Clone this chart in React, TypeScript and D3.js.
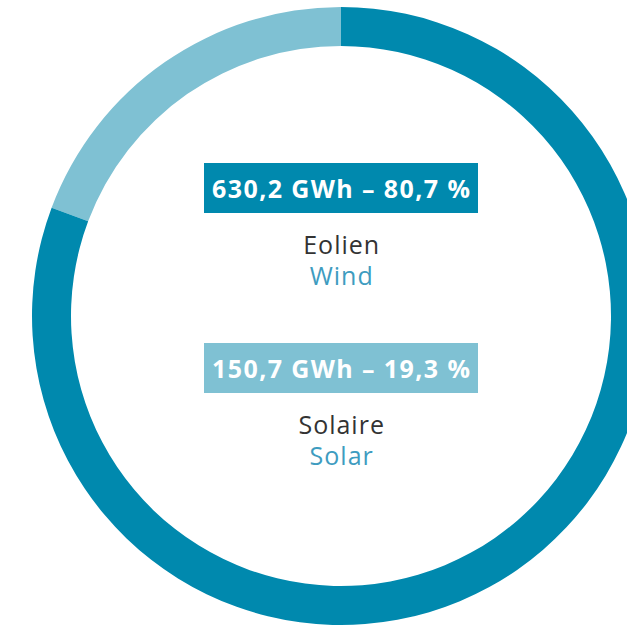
import * as React from 'react';
import * as d3 from 'd3';

const categories = ['Solaire', 'Eolien'];
const englishNames = ['Solar', 'Wind'];
const energyGWh = [150.7, 630.2];
const shareLabels = ['150,7 GWh – 19,3 %', '630,2 GWh – 80,7 %'];
const colors = ['#7fc1d3', '#0089ae'];

const width = 627;
const height = 626;

export default function App() {
    const cx = 341;
    const cy = 316;
    const outerR = 309;
    const innerR = 270;

    // solar first, drawn counter-clockwise from 12 o'clock
    const pie = d3.pie<number>()
        .sort(null)
        .startAngle(0)
        .endAngle(-2 * Math.PI);
    const arcs = pie(energyGWh);
    const arc = d3.arc<d3.PieArcDatum<number>>()
        .innerRadius(innerR)
        .outerRadius(outerR);

    // label blocks: wind on top, solar below
    const order = [1, 0];
    const boxTop = [163, 343];
    const boxW = 274;
    const boxH = 50;

    return (
        <svg width={width} height={height}
             style={{ position: 'fixed', left: 0, top: 0, background: '#fff' }}>
            <g transform={`translate(${cx},${cy})`}>
                {arcs.map((a, i) => (
                    <path key={categories[i]} d={arc(a) || ''} fill={colors[i]} />
                ))}
            </g>
            {order.map((idx, k) => {
                const y0 = boxTop[k];
                return (
                    <g key={categories[idx]} fontFamily="'Open Sans', Lato, sans-serif">
                        <rect x={cx - boxW / 2} y={y0} width={boxW} height={boxH} fill={colors[idx]} />
                        <text x={cx + 0.7} y={y0 + 35} textAnchor="middle" fill="#fff"
                              fontSize={25} fontWeight="bold" letterSpacing={1.4}>{shareLabels[idx]}</text>
                        <text x={cx + 0.7} y={y0 + 91} textAnchor="middle" fill="#333"
                              fontSize={25} letterSpacing={1}>{categories[idx]}</text>
                        <text x={cx + 0.7} y={y0 + 122} textAnchor="middle" fill="#3e9cc0"
                              fontSize={25} letterSpacing={1}>{englishNames[idx]}</text>
                    </g>
                );
            })}
        </svg>
    );
}
